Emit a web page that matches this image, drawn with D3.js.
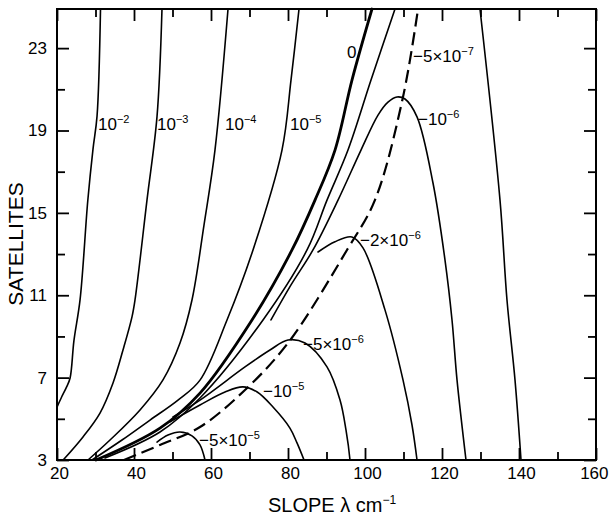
<!DOCTYPE html>
<html>
<head>
<meta charset="utf-8">
<script src="https://cdn.jsdelivr.net/npm/d3@7"></script>
<style>
  html, body { margin: 0; padding: 0; background: #fff; }
  svg { display: block; }
  text { font-family: "Liberation Sans", Arial, sans-serif; fill: #000; }
</style>
</head>
<body>
<svg id="chart" width="609" height="516"></svg>
<script>
// Axis ticks
const xTicksMajor = [20, 40, 60, 80, 100, 120, 140, 160];
const xTicksMinor = [30, 50, 70, 90, 110, 130, 150];
const yTicksMajor = [3, 7, 11, 15, 19, 23];
const yTicksMinor = [5, 9, 13, 17, 21];

// Contours of constant growth rate, [slope λ, satellites]
const posE2 = [[20, 5.57], [21.2, 6.06], [22.5, 6.55], [23.4, 6.98], [24.4, 8.8], [26.0, 10.8], [28.0, 15.6], [29.35, 18.1], [30.4, 19.7], [31.3, 24.9]];
const posE3 = [[21.6, 3.0], [26.75, 4.12], [31.17, 5.28], [34.55, 6.74], [37.14, 8.34], [39.48, 9.95], [40.26, 10.77], [43.38, 15.63], [45.97, 19.66], [47.27, 24.9]];
const posE4 = [[28.05, 3.0], [33.77, 3.97], [41.56, 5.43], [47.53, 6.89], [51.95, 8.68], [55.06, 10.77], [58.18, 14.41], [61.04, 18.06], [64.42, 24.9]];
const posE5 = [[29.09, 3.0], [36.88, 3.97], [44.16, 4.94], [51.43, 5.91], [57.14, 6.88], [64.16, 9.8], [70.91, 13.2], [78.44, 18.05], [80.78, 21.45], [82.86, 24.9]];
const zero = [[30.13, 3.0], [46.75, 4.55], [57.14, 6.25], [70.65, 9.8], [81.04, 13.2], [87.01, 15.62], [92.21, 18.05], [96.62, 21.45], [101.82, 24.9]];
const neg5e7Left = [[32.47, 3.1], [46.75, 4.36], [57.14, 6.01], [73.51, 9.8], [84.94, 13.2], [90.13, 15.62], [95.58, 18.05], [101.56, 21.45], [107.79, 24.9]];
const neg5e7Right = [[129.87, 24.9], [135.06, 15.63], [136.88, 10.77], [138.96, 6.89], [140.52, 3.0]];
const neg1e6 = [[75.58, 9.8], [80.78, 11.5], [86.49, 13.2], [92.99, 15.62], [98.96, 18.05], [103.38, 19.75], [105.97, 20.38], [108.31, 20.63], [110.39, 20.53], [113.51, 19.66], [117.66, 16.45], [120.78, 12.71], [122.6, 9.8], [123.9, 6.89], [126.23, 3.0]];
const neg2e6 = [[87.8, 13.1], [92.2, 13.6], [96.6, 13.83], [99.48, 13.3], [105.19, 10.29], [109.87, 6.89], [112.21, 4.7], [113.51, 3.0]];
const neg5e6 = [[50.13, 5.09], [57.14, 5.91], [68.83, 7.52], [75.32, 8.34], [80.0, 8.83], [84.42, 8.68], [90.13, 7.52], [93.51, 5.91], [95.06, 4.46], [96.1, 3.0]];
const neg1e5 = [[49.35, 4.85], [57.14, 5.67], [63.64, 6.3], [68.3, 6.55], [72.0, 6.3], [76.1, 5.57], [80.5, 4.55], [82.34, 3.83], [84.16, 3.0]];
const neg5e5 = [[45.97, 3.87], [48.83, 4.21], [51.95, 4.36], [55.06, 4.17], [57.14, 3.73], [58.44, 3.0]];
const apexLine = [[37.4, 3.0], [46.75, 3.73], [57.14, 4.6], [68.83, 6.4], [80.0, 8.68], [95.32, 13.2], [102.6, 15.63], [109.87, 20.63], [113.77, 24.9]];

// Contour labels: leading text, mantissa, exponent, anchor [λ, satellites]
const labelLead = ["", "", "", "", "0", "−5×", "−", "−2×", "−5×", "−", "−5×"];
const labelBase = ["10", "10", "10", "10", "", "10", "10", "10", "10", "10", "10"];
const labelExp = ["−2", "−3", "−4", "−5", "", "−7", "−6", "−6", "−6", "−5", "−5"];
const labelAt = [[30.65, 19.03], [45.97, 19.03], [63.64, 19.03], [80.52, 19.03], [95.32, 22.52], [112.47, 22.33], [113.77, 19.27], [98.7, 13.39], [83.9, 8.34], [73.5, 6.06], [56.9, 3.68]];

const svg = d3.select("#chart");
const x = d3.scaleLinear().domain([20, 160]).range([57, 596]);
const y = d3.scaleLinear().domain([3, 24.9]).range([460, 9]);

const line = d3.line()
  .x(d => x(d[0]))
  .y(d => y(d[1]))
  .curve(d3.curveCatmullRom.alpha(0.5));

// Ticks on all four sides, pointing inward
function tickAxis(axisFn, scale, values, size, labels, transform, pad) {
  const ax = axisFn(scale).tickValues(values).tickSizeInner(-size).tickSizeOuter(0).tickPadding(pad);
  if (!labels) ax.tickFormat("");
  const g = svg.append("g").attr("transform", transform).call(ax);
  g.select(".domain").remove();
  g.selectAll(".tick line").attr("stroke", "#000").attr("stroke-width", 1.8);
  g.selectAll(".tick text").style("font-size", "17px").attr("fill", "#000");
  return g;
}
const atBottom = "translate(0,460)", atTop = "translate(0,9)", atLeft = "translate(57,0)", atRight = "translate(596,0)";
const xLabels = tickAxis(d3.axisBottom, x, xTicksMajor, 12, true, atBottom, 7);
xLabels.selectAll(".tick text").attr("dx", 2);
// last label sits flush against the right edge
xLabels.selectAll(".tick text").filter(d => d === 160).attr("text-anchor", "end").attr("dx", 12);
tickAxis(d3.axisBottom, x, xTicksMinor, 8, false, atBottom, 7);
tickAxis(d3.axisTop, x, xTicksMajor, 12, false, atTop, 7);
tickAxis(d3.axisTop, x, xTicksMinor, 8, false, atTop, 7);
tickAxis(d3.axisLeft, y, yTicksMajor, 12, true, atLeft, 10);
tickAxis(d3.axisLeft, y, yTicksMinor, 8, false, atLeft, 10);
tickAxis(d3.axisRight, y, yTicksMajor, 12, false, atRight, 10);
tickAxis(d3.axisRight, y, yTicksMinor, 8, false, atRight, 10);

// Frame
svg.append("rect")
  .attr("x", x(20)).attr("y", y(24.9))
  .attr("width", x(160) - x(20)).attr("height", y(3) - y(24.9))
  .attr("fill", "none").attr("stroke", "#000").attr("stroke-width", 2);

// Contours
const plot = svg.append("g").attr("fill", "none").attr("stroke", "#000").attr("stroke-linecap", "round");
[posE2, posE3, posE4, posE5, neg5e7Left, neg5e7Right, neg1e6, neg2e6, neg5e6, neg1e5, neg5e5]
  .forEach(c => plot.append("path").attr("d", line(c)).attr("stroke-width", 1.6));
plot.append("path").attr("d", line(zero)).attr("stroke-width", 2.8);
plot.append("path").attr("d", line(apexLine)).attr("stroke-width", 2.2)
  .attr("stroke-dasharray", "13,6").attr("stroke-linecap", "butt");

// Contour labels
labelAt.forEach((p, i) => {
  const t = svg.append("text").attr("x", x(p[0])).attr("y", y(p[1])).style("font-size", "17px");
  t.append("tspan").text(labelLead[i] + labelBase[i]);
  if (labelExp[i]) t.append("tspan").attr("dy", -7).style("font-size", "11px").text(labelExp[i]);
});

// Axis titles
svg.append("text")
  .attr("transform", "translate(23,244) rotate(-90)")
  .attr("text-anchor", "middle")
  .style("font-size", "21px")
  .text("SATELLITES");

const xt = svg.append("text").attr("x", 268).attr("y", 512).style("font-size", "20px");
xt.append("tspan").text("SLOPE λ cm");
xt.append("tspan").attr("dy", -8).style("font-size", "12px").text("−1");
</script>
</body>
</html>
